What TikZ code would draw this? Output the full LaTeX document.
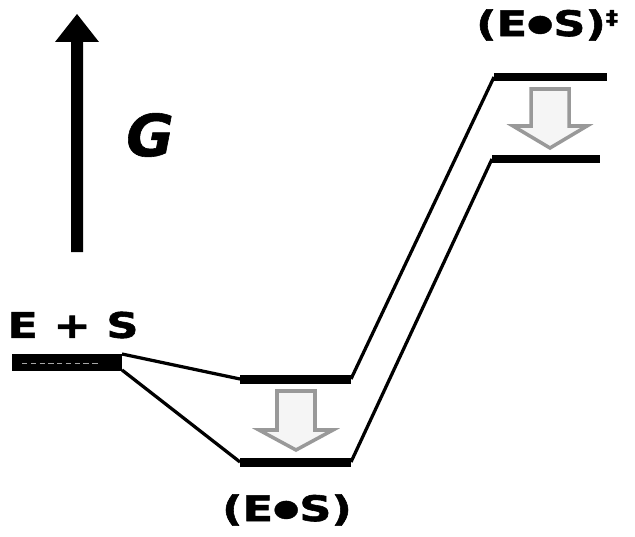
\documentclass[tikz,border=0pt]{standalone}
\usepackage{fontspec}
\newfontfamily\lblfont{DejaVu Sans}[FakeStretch=1.27,FakeBold=1.6]
\newfontfamily\gfont{DejaVu Sans}[FakeBold=1]
\tikzset{
  level/.style={line width=0.18cm},
  link/.style={line width=0.065cm},
  lbl/.style={font=\lblfont\bfseries\fontsize{20}{22}\selectfont,inner sep=0pt},
  drop/.style={fill=gray!8,draw=gray!80,line width=2pt,line join=miter},
}
\newcommand{\dropArrow}[4]{% x center, shaft top, head base, tip
  \draw[drop] (#1-19,#2) -- (#1+19,#2) -- (#1+19,#3) -- (#1+37,#3) -- (#1,#4)
    -- (#1-37,#3) -- (#1-19,#3) -- cycle;}
\newcommand{\dotop}{\raisebox{2.8pt}{\fontsize{13.5}{13.5}\selectfont ●}}
\begin{document}
\begin{tikzpicture}[x=0.02cm,y=-0.02cm]
  \useasboundingbox (0,0) rectangle (635,537);
  % free energy axis
  \fill (71,252) -- (71,42) -- (55,42) -- (77,14) -- (99,42) -- (83,42) -- (83,252) -- cycle;
  \node[font=\gfont\bfseries\itshape\fontsize{33}{35}\selectfont,inner sep=0pt] (G) at (150,135) {G};

  % energy levels
  \coordinate (esL) at (12,362);   \coordinate (esR) at (122,362);
  \coordinate (cuL) at (240,379);  \coordinate (cuR) at (351,379);
  \coordinate (clL) at (240,462);  \coordinate (clR) at (351,462);
  \coordinate (tuL) at (494,77);   \coordinate (tuR) at (607,77);
  \coordinate (tlL) at (492,159);  \coordinate (tlR) at (600,159);
  \draw[line width=0.34cm] (esL) -- (esR);
  \draw[gray!70,line width=0.5pt,dash pattern=on 3pt off 2pt] (22,363) -- (100,363);
  \draw[level] (cuL) -- (cuR);
  \draw[level] (clL) -- (clR);
  \draw[level] (tuL) -- (tuR);
  \draw[level] (tlL) -- (tlR);

  % connectors
  \draw[link] ([yshift=0.16cm]esR) -- (cuL);
  \draw[link] ([yshift=-0.16cm]esR) -- (clL);
  \draw[link] (cuR) -- (tuL);
  \draw[link] (clR) -- (tlL);

  % stabilisation arrows
  \dropArrow{296}{391}{430}{450}
  \dropArrow{550}{89}{126}{148}

  % labels
  \node[lbl] (sub) at (73,325) {E + S};
  \node[lbl] (cpx) at (287,510) {(E\dotop S)};
  \node[lbl] (ts) at (541,25) {(E\dotop S)};
  \node[font=\lblfont\bfseries\fontsize{11}{12}\selectfont,inner sep=0pt] (dag) at (612,18) {‡};
\end{tikzpicture}
\end{document}
